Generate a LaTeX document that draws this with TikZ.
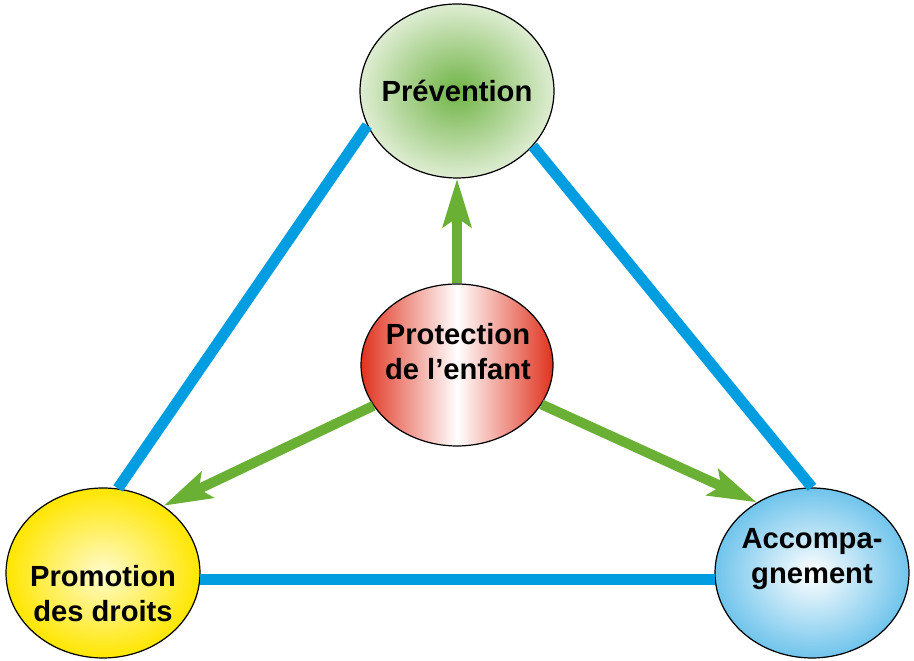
\documentclass[tikz,border=0pt]{standalone}
\usepackage{fontspec}
\setmainfont{Liberation Sans}
\usetikzlibrary{shapes.geometric,arrows.meta,calc}
\definecolor{lnblue}{RGB}{0,158,224}
\definecolor{argreen}{RGB}{106,176,52}
\definecolor{gin}{RGB}{112,180,70}
\definecolor{gout}{RGB}{222,237,210}
\definecolor{pred}{RGB}{224,50,30}
\definecolor{yin}{RGB}{255,251,205}
\definecolor{yout}{RGB}{255,230,0}
\definecolor{bout}{RGB}{112,196,236}
\begin{document}
\begin{tikzpicture}[x=0.02cm,y=-0.02cm,
  bubble/.style={ellipse,draw=black,line width=0.7pt,inner sep=0pt},
  lbl/.style={font=\fontsize{16.6}{20}\selectfont\bfseries,align=center,inner sep=0pt},
  link/.style={draw=lnblue,line width=0.22cm},
  push/.style={draw=argreen,line width=0.2cm,-{Stealth[length=0.96cm,width=0.56cm,inset=0.18cm]}}]
\useasboundingbox (0,0) rectangle (914,661);
\node[bubble,minimum width=3.88cm,minimum height=3.48cm,inner color=gin,outer color=gout] (prev) at (457,91) {};
\node[bubble,minimum width=3.84cm,minimum height=3.24cm,left color=pred,right color=pred,middle color=white] (prot) at (457,365) {};
\node[bubble,minimum width=3.88cm,minimum height=3.40cm,inner color=yin,outer color=yout] (prom) at (103,573) {};
\node[bubble,minimum width=3.88cm,minimum height=3.40cm,inner color=white,outer color=bout] (acc) at (812,573) {};
\node[lbl] (prevtxt) at (457,91) {Prévention};
\node[lbl] (prottxt) at (458,352) {Protection\\de l’enfant};
\node[lbl] (promtxt) at (103,594) {Promotion\\des droits};
\node[lbl] (acctxt) at (812,559) {Accompa-\\gnement};
\draw[link] (prom.80) -- (prev.201);
\draw[link] (prev.-36) -- (acc.90);
\draw[link] (prom.-4) -- (acc.184);
\draw[push] (prot.north) -- (prev.south);
\draw[push] (prot.206) -- (prom.48);
\draw[push] (prot.-25) -- (acc.128);
\end{tikzpicture}
\end{document}
